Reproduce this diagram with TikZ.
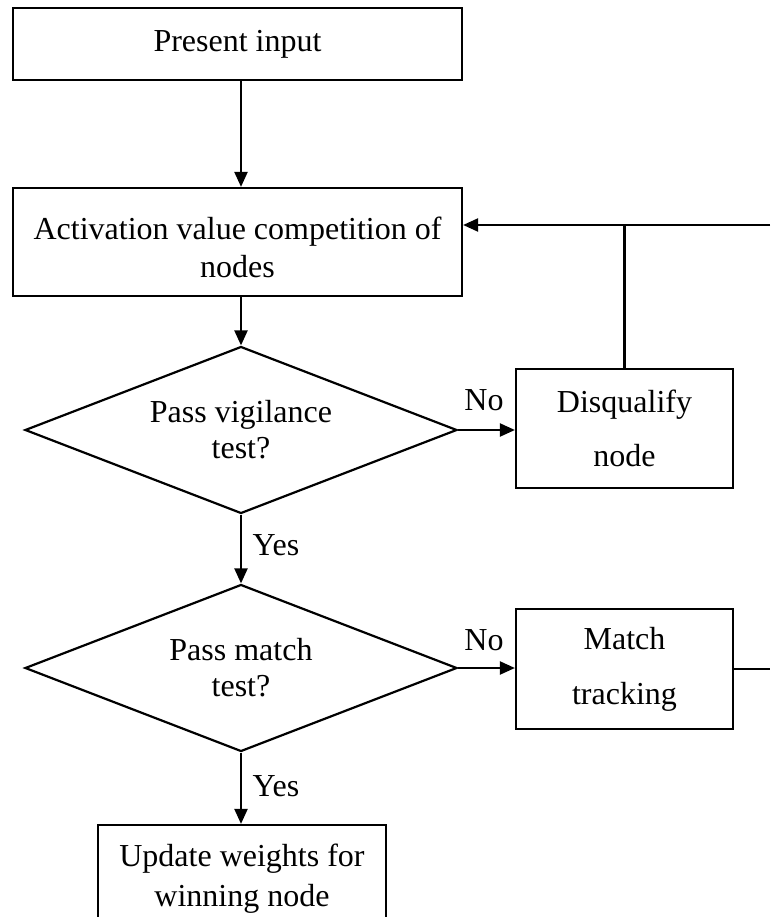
\documentclass[tikz,border=0pt]{standalone}
\usepackage{fontspec}
\setmainfont{Liberation Serif}
\usetikzlibrary{shapes.geometric,arrows.meta}
\begin{document}
\begin{tikzpicture}[x=1pt,y=-1pt,
  every node/.style={font=\fontsize{32}{36}\selectfont},
  box/.style={draw, line width=2.2pt, rectangle, inner sep=0pt, align=center},
  dia/.style={draw, line width=2.2pt, diamond, aspect=2.57, inner sep=0pt,
    minimum width=432pt, minimum height=167pt, align=center},
  arr/.style={line width=2.2pt, -{Triangle[length=15pt,width=13pt]}},
  conn/.style={line width=2.2pt},
  lbl/.style={anchor=base, inner sep=0pt}
]
\useasboundingbox (0,0) rectangle (770,917);

\node[box, minimum width=449pt, minimum height=72pt] (present) at (237.5,44) {Present input};
\node[box, minimum width=449pt, minimum height=108pt] (act) at (237.5,242)
  {\rule{0pt}{34pt}Activation value competition of\\[2pt]nodes};
\node[dia] (d1) at (241,430) {Pass vigilance\\test?};
\node[box, minimum width=217pt, minimum height=119pt] (disq) at (624.5,428.5) {Disqualify\\[18pt]node};
\node[dia] (d2) at (241,668) {Pass match\\test?};
\node[box, minimum width=217pt, minimum height=120pt] (mt) at (624.5,669) {Match\\[19pt]tracking};
\node[box, minimum width=288pt, minimum height=108pt] (upd) at (242,879) {Update weights for\\[4pt]winning node};

\node[lbl] (no1) at (484,410) {No};
\node[lbl] (no2) at (484,650) {No};
\node[lbl] (yes1) at (276,555) {Yes};
\node[lbl] (yes2) at (276,796) {Yes};

\coordinate (backin) at (770,225);
\coordinate (mtout) at (770,669);

\draw[arr] (present.south -| d1.north) -- (act.north -| d1.north);
\draw[arr] (act.south -| d1.north) -- (d1.north);
\draw[arr] (d1.south) -- (d2.north);
\draw[arr] (d2.south) -- (upd.north -| d2.south);
\draw[arr] (d1.east) -- (d1.east -| disq.west);
\draw[arr] (d2.east) -- (d2.east -| mt.west);
\draw[conn] (disq.north) -- (disq.north |- backin);
\draw[arr] (backin) -- (act.east |- backin);
\draw[conn] (mt.east) -- (mtout);
\end{tikzpicture}
\end{document}
